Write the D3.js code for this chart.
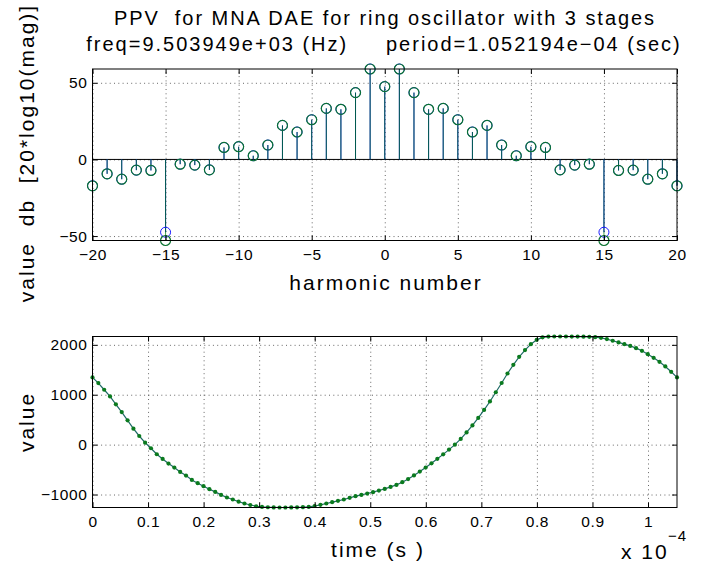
<!DOCTYPE html>
<html>
<head>
<meta charset="utf-8">
<script src="https://cdn.jsdelivr.net/npm/d3@7"></script>
<style>
body { margin: 0; background: #fff; }
svg text { font-family: "Liberation Sans", Arial, sans-serif; fill: #000; }
.grid line { stroke: #000; stroke-opacity: 0.6; stroke-dasharray: 1,3.3; }
.grid .domain { display: none; }
.ax .domain { display: none; }
.ax line { stroke: #000; }
.big { font-size: 21px; letter-spacing: 2px; white-space: pre; }
</style>
</head>
<body>
<div id="chart"></div>
<script>
// harmonic spectrum (dB)
const harmonics = [-20,-19,-18,-17,-16,-15,-14,-13,-12,-11,-10,-9,-8,-7,-6,-5,-4,-3,-2,-1,0,
                   1,2,3,4,5,6,7,8,9,10,11,12,13,14,15,16,17,18,19,20];
const dbGreen = [-17.2,-9.4,-12.9,-7.0,-7.2,-52.9,-3.1,-3.7,-6.8,7.8,8.3,2.4,9.4,22.2,17.9,25.9,33.3,32.7,43.6,59.0,47.5,
                 59.0,43.6,32.7,33.3,25.9,17.9,22.2,9.4,2.4,8.3,7.8,-6.8,-3.7,-3.1,-52.9,-7.2,-7.0,-12.9,-9.4,-17.2];
const dbBlue  = [-17.2,-9.4,-12.9,-7.0,-7.2,-47.5,-3.1,-3.7,-6.8,7.8,8.3,2.4,9.4,22.2,17.9,25.9,33.3,32.7,43.6,59.0,47.5,
                 59.0,43.6,32.7,33.3,25.9,17.9,22.2,9.4,2.4,8.3,7.8,-6.8,-3.7,-3.1,-47.5,-7.2,-7.0,-12.9,-9.4,-17.2];
const harmTicks = [-20,-15,-10,-5,0,5,10,15,20];
const dbTicks = [-50,0,50];

// PPV waveform over one period
const period = 1.052194e-4;
const ppvValues = [1347,1233,1100,967,807,653,487,320,173,40,-73,-193,-287,-380,-460,-547,-620,-707,-773,-833,
                   -893,-947,-1007,-1060,-1100,-1143,-1180,-1210,-1235,-1248,-1255,-1258,-1260,-1260,-1259,-1257,-1254,-1248,-1230,-1207,
                   -1180,-1153,-1127,-1100,-1067,-1033,-1007,-980,-953,-920,-887,-847,-807,-753,-690,-617,-540,-460,-375,-285,
                   -195,-100,0,115,245,385,535,695,865,1050,1235,1425,1600,1760,1895,2013,2100,2150,2165,2167,
                   2167,2167,2166,2165,2163,2160,2153,2140,2115,2082,2048,2013,1978,1933,1880,1813,1740,1660,1567,1460,1347];
const timeTicks = [0,0.1e-4,0.2e-4,0.3e-4,0.4e-4,0.5e-4,0.6e-4,0.7e-4,0.8e-4,0.9e-4,1e-4];
const valueTicks = [-1000,0,1000,2000];

const W = 706, H = 570;
const left = 92.5, right = 677;
const top1 = 69, bot1 = 240.5, top2 = 336.5, bot2 = 507.5;

const svg = d3.select('#chart').append('svg').attr('width', W).attr('height', H);

function styleTicks(g) {
	g.attr('font-family', null).attr('font-size', null);
	g.selectAll('text').style('font-size', '15.5px').style('letter-spacing', '0.6px');
}

function frame(xs, ys, xt, yt, top, bot) {
	// dotted grid
	svg.append('g').attr('class', 'grid').attr('transform', `translate(0,${bot})`)
		.call(d3.axisBottom(xs).tickValues(xt).tickSize(-(bot - top)).tickFormat(''));
	svg.append('g').attr('class', 'grid').attr('transform', `translate(${left},0)`)
		.call(d3.axisLeft(ys).tickValues(yt).tickSize(-(right - left)).tickFormat(''));
}

function axes(xs, ys, xt, yt, top, bot, xfmt, yfmt) {
	svg.append('g').attr('class', 'ax').attr('transform', `translate(0,${bot})`)
		.call(d3.axisBottom(xs).tickValues(xt).tickSizeInner(-5).tickSizeOuter(0).tickPadding(8).tickFormat(xfmt))
		.call(styleTicks);
	svg.append('g').attr('class', 'ax').attr('transform', `translate(0,${top})`)
		.call(d3.axisTop(xs).tickValues(xt).tickSizeInner(-5).tickSizeOuter(0).tickFormat(''));
	svg.append('g').attr('class', 'ax').attr('transform', `translate(${left},0)`)
		.call(d3.axisLeft(ys).tickValues(yt).tickSizeInner(-5).tickSizeOuter(0).tickPadding(5).tickFormat(yfmt))
		.call(styleTicks);
	svg.append('g').attr('class', 'ax').attr('transform', `translate(${right},0)`)
		.call(d3.axisRight(ys).tickValues(yt).tickSizeInner(-5).tickSizeOuter(0).tickFormat(''));
	svg.append('rect').attr('x', left).attr('y', top).attr('width', right - left).attr('height', bot - top)
		.attr('fill', 'none').attr('stroke', '#000').attr('stroke-width', 1);
}

// ---------- top: stem plot ----------
const x1 = d3.scaleLinear().domain([-20, 20]).range([left, right]);
const y1 = d3.scaleLinear().domain(d3.extent(dbGreen.concat(dbBlue))).range([bot1, top1]);

frame(x1, y1, harmTicks, dbTicks, top1, bot1);

svg.append('line').attr('x1', left).attr('x2', right).attr('y1', y1(0)).attr('y2', y1(0))
	.attr('stroke', '#000').attr('stroke-width', 1);

const stems = [{ vals: dbBlue, color: '#0000ff', op: 1 }, { vals: dbGreen, color: '#008000', op: 0.7 }];
stems.forEach(s => {
	svg.append('g').selectAll('line').data(s.vals).join('line')
		.attr('x1', (d, i) => x1(harmonics[i])).attr('x2', (d, i) => x1(harmonics[i]))
		.attr('y1', y1(0)).attr('y2', d => y1(d))
		.attr('stroke', s.color).attr('stroke-opacity', s.op).attr('stroke-width', 1);
});
svg.append('g').selectAll('circle').data(dbBlue).join('circle')
	.attr('cx', (d, i) => x1(harmonics[i])).attr('cy', d => y1(d)).attr('r', 5)
	.attr('fill', 'none').attr('stroke', '#1a1aff').attr('stroke-width', 1);
svg.append('g').selectAll('circle').data(dbGreen).join('circle')
	.attr('cx', (d, i) => x1(harmonics[i])).attr('cy', d => y1(d)).attr('r', 5)
	.attr('fill', 'none').attr('stroke', '#0a7330').attr('stroke-width', 1.2);

axes(x1, y1, harmTicks, dbTicks, top1, bot1, d3.format('d'), d3.format('d'));

// ---------- bottom: waveform ----------
const times = ppvValues.map((d, i) => i * period / (ppvValues.length - 1));
const x2 = d3.scaleLinear().domain([0, period]).range([left, right]);
const y2 = d3.scaleLinear().domain(d3.extent(ppvValues)).range([bot2, top2]);

frame(x2, y2, timeTicks, valueTicks, top2, bot2);

svg.append('path').datum(ppvValues)
	.attr('d', d3.line().x((d, i) => x2(times[i])).y(d => y2(d)))
	.attr('fill', 'none').attr('stroke', '#1f6a66').attr('stroke-width', 1.2);
svg.append('g').selectAll('circle').data(ppvValues).join('circle')
	.attr('cx', (d, i) => x2(times[i])).attr('cy', d => y2(d)).attr('r', 2.1)
	.attr('fill', '#0a7a1e');

axes(x2, y2, timeTicks, valueTicks, top2, bot2, d => d3.format('~g')(+(d * 1e4).toFixed(1)), d3.format('d'));

// ---------- text ----------
svg.append('text').attr('class', 'big').attr('x', 385).attr('y', 25).attr('text-anchor', 'middle')
	.style('font-size', '20px').style('letter-spacing', '1.95px')
	.text('PPV  for MNA DAE for ring oscillator with 3 stages');
svg.append('text').attr('class', 'big').attr('x', 384).attr('y', 51).attr('text-anchor', 'middle')
	.style('font-size', '20px').text('freq=9.503949e+03 (Hz)     period=1.052194e\u221204 (sec)');
svg.append('text').attr('class', 'big').attr('x', 386).attr('y', 290).attr('text-anchor', 'middle')
	.text('harmonic number');
svg.append('text').attr('class', 'big').attr('transform', 'translate(34,153) rotate(-90)').attr('text-anchor', 'middle')
	.text('value  db  [20*log10(mag)]');
svg.append('text').attr('class', 'big').attr('transform', 'translate(34,422) rotate(-90)').attr('text-anchor', 'middle')
	.text('value');
svg.append('text').attr('class', 'big').attr('x', 378).attr('y', 557).attr('text-anchor', 'middle')
	.text('time (s )');
svg.append('text').attr('class', 'big').attr('x', 621).attr('y', 559).text('x 10');
svg.append('text').attr('x', 668).attr('y', 541).style('font-size', '15px').style('letter-spacing', '1px')
	.text('\u22124');
</script>
</body>
</html>
